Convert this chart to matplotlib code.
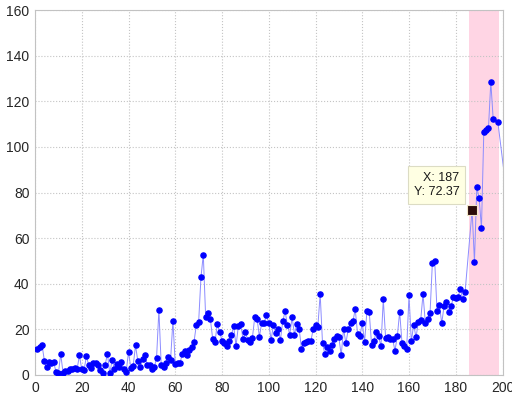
import matplotlib
matplotlib.use('Agg')
import matplotlib.pyplot as plt

# ---- data ----
x_values = list(range(1, 185)) + [187, 188, 189, 190, 191, 192, 193, 194, 195, 196, 198, 201]
y_values = [
    11.3, 12.4, 13.3, 6.3, 3.4, 5.7, 5.1, 5.5, 1.3, 0.7,
    9.2, 1.0, 1.6, 1.9, 2.5, 2.8, 3.1, 2.5, 8.6, 2.5,
    2.2, 8.3, 4.2, 3.0, 5.1, 5.1, 4.2, 2.2, 1.0, 4.5,
    9.2, 0.7, 6.6, 2.5, 4.8, 3.4, 5.5, 2.8, 1.3, 10.1,
    3.1, 4.0, 13.0, 6.0, 3.7, 6.9, 8.6, 4.5, 4.2, 2.8,
    3.3, 7.4, 28.5, 4.2, 3.7, 5.1, 8.0, 6.6, 23.8, 4.8,
    5.1, 5.1, 9.2, 10.7, 8.6, 11.0, 12.1, 14.4, 21.7, 23.1,
    42.8, 52.8, 25.6, 27.0, 24.7, 15.9, 14.5, 22.4, 18.9, 15.0,
    13.9, 12.7, 15.1, 17.4, 21.5, 12.7, 21.5, 22.4, 15.6, 18.9,
    15.4, 14.5, 16.2, 25.3, 24.7, 16.8, 22.9, 22.9, 26.1, 22.9,
    15.4, 21.8, 18.6, 20.3, 15.4, 23.5, 28.0, 21.8, 17.7, 25.3,
    17.7, 22.4, 20.3, 11.6, 13.9, 14.5, 14.8, 14.8, 20.0, 22.1,
    21.2, 35.5, 13.9, 9.2, 12.4, 10.7, 13.0, 15.6, 17.1, 16.5,
    8.6, 20.3, 13.9, 20.0, 22.9, 23.5, 28.8, 18.0, 17.1, 22.7,
    14.5, 28.0, 27.5, 13.0, 15.0, 18.9, 17.0, 12.5, 33.2, 16.2,
    16.5, 15.9, 15.6, 10.7, 16.9, 27.7, 14.2, 12.5, 11.5, 34.9,
    14.7, 22.1, 16.5, 23.2, 24.0, 35.5, 22.7, 24.7, 27.0, 49.2,
    49.8, 27.9, 30.8, 22.7, 30.2, 32.0, 27.5, 30.2, 34.0, 33.7,
    34.3, 37.8, 33.1, 36.5,
    72.37, 49.5, 82.3, 77.6, 64.4, 106.5, 107.2, 108.3, 128.5, 112.4, 111.0, 86.0,
]
highlight_range = (185.8, 198.7)
tip_x = 187
tip_y = 72.37
x_ticks = [0, 20, 40, 60, 80, 100, 120, 140, 160, 180, 200]
y_ticks = [0, 20, 40, 60, 80, 100, 120, 140, 160]

plt.rcParams['font.family'] = ['Liberation Sans', 'DejaVu Sans']

fig = plt.figure(figsize=(5.12, 3.96), dpi=100)
ax = fig.add_axes([35 / 512, 1 - 375 / 396, (502.5 - 35) / 512, (375 - 10) / 396])

ax.axvspan(highlight_range[0], highlight_range[1], facecolor='#ffd5e4', edgecolor='none', zorder=0.2)

ax.plot(x_values, y_values, color='#8c8cff', linewidth=0.7, zorder=2)
ax.plot(x_values, y_values, linestyle='none', marker='o', markersize=3.7,
        markevery=slice(0, len(x_values) - 1),
        markerfacecolor='#0000ff', markeredgecolor='#0000ff', zorder=3)

# data tip
ax.plot([tip_x], [tip_y], marker='s', markersize=7, markerfacecolor='#2b0c0c',
        markeredgecolor='#f2e6c8', markeredgewidth=0.8, linestyle='none', zorder=5)
ax.text(181.6, 83.2, f"X: {tip_x}\nY: {tip_y:.2f}", ha='right', va='center',
        multialignment='right', fontsize=9, color='#1a1a1a', zorder=6,
        linespacing=1.25,
        bbox=dict(boxstyle='square,pad=0.45', facecolor='#ffffe3', edgecolor='#dcdcc4', linewidth=0.8))

ax.set_xlim(0, 200)
ax.set_ylim(0, 160)
ax.set_xticks(x_ticks)
ax.set_yticks(y_ticks)
ax.set_axisbelow(True)
ax.grid(True, linestyle=':', color='#c4c4c4', linewidth=0.8)
ax.tick_params(length=0, labelsize=10, labelcolor='#262626', pad=4)
for s in ax.spines.values():
    s.set_color('#c2c2c2')
    s.set_linewidth(0.8)

fig.savefig('out.png', dpi=100)
